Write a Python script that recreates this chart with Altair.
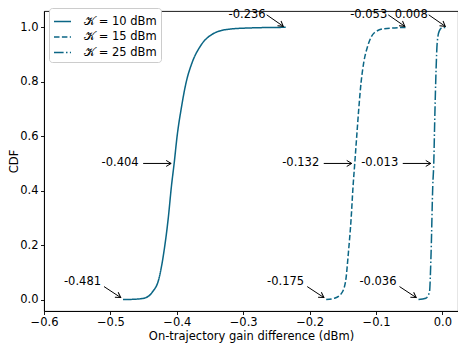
import altair as alt
import pandas as pd

COLOR = "#0b6685"
FONT = "DejaVu Sans"
FS = 11.5

series_names = ["𝒦 = 10 dBm", "𝒦 = 15 dBm", "𝒦 = 25 dBm"]

k10_x = [-0.481, -0.465, -0.4495, -0.437, -0.427, -0.4195, -0.413, -0.408, -0.404,
         -0.3995, -0.3935, -0.386, -0.377, -0.3645, -0.347, -0.322, -0.287, -0.236]
k10_y = [0.0, 0.001, 0.005, 0.027, 0.076, 0.174, 0.296, 0.418, 0.5,
         0.601, 0.699, 0.797, 0.870, 0.931, 0.974, 0.993, 0.998, 1.0]

k15_x = [-0.175, -0.1625, -0.1525, -0.146, -0.1415, -0.1375, -0.1345, -0.132,
         -0.129, -0.126, -0.1225, -0.1185, -0.1125, -0.1025, -0.0875, -0.053]
k15_y = [0.0, 0.005, 0.021, 0.064, 0.174, 0.296, 0.418, 0.5,
         0.601, 0.699, 0.797, 0.870, 0.931, 0.980, 0.995, 1.0]

k25_x = [-0.036, -0.025, -0.0195, -0.017, -0.0145, -0.013, -0.0115, -0.0095,
         -0.0078, -0.0048, 0.0, 0.008]
k25_y = [0.0, 0.005, 0.027, 0.174, 0.418, 0.5, 0.663, 0.846,
         0.944, 0.986, 0.999, 1.0]

# annotations: value, cdf level, text
ann_x = [-0.481, -0.175, -0.036, -0.404, -0.132, -0.013, -0.236, -0.053, 0.008]
ann_y = [0.0, 0.0, 0.0, 0.5, 0.5, 0.5, 1.0, 1.0, 1.0]
ann_text = ["-0.481", "-0.175", "-0.036", "-0.404", "-0.132", "-0.013",
            "-0.236", "-0.053", "0.008"]

x_ticks = [-0.6, -0.5, -0.4, -0.3, -0.2, -0.1, 0.0]
y_ticks = [0.0, 0.2, 0.4, 0.6, 0.8, 1.0]

rows = []
for name, xs, ys in zip(series_names, [k10_x, k15_x, k25_x], [k10_y, k15_y, k25_y]):
    for i, (a, b) in enumerate(zip(xs, ys)):
        rows.append({"series": name, "x": a, "cdf": b, "i": i})
df = pd.DataFrame(rows)

ann = pd.DataFrame({"x": ann_x, "y": ann_y, "t": ann_text})

xscale = alt.Scale(domain=[-0.6, 0.0235], nice=False, zero=False)
yscale = alt.Scale(domain=[-0.042, 1.06], nice=False, zero=False)

xaxis = alt.Axis(values=x_ticks, format=".1f", title="On-trajectory gain difference (dBm)",
                 labelFlush=False, labelOverlap=False, labelPadding=2, titlePadding=2)
yaxis = alt.Axis(values=y_ticks, format=".1f", title="CDF", labelPadding=2.5,
                 titlePadding=0)

lines = alt.Chart(df).mark_line(color=COLOR, strokeWidth=1.5, interpolate="monotone").encode(
    x=alt.X("x:Q", scale=xscale, axis=xaxis),
    y=alt.Y("cdf:Q", scale=yscale, axis=yaxis),
    order="i:Q",
    strokeDash=alt.StrokeDash(
        "series:N",
        scale=alt.Scale(domain=series_names,
                        range=[[1, 0], [5.5, 2.4], [9.6, 2.4, 1.5, 2.4]]),
        sort=series_names,
        legend=alt.Legend(
            title=None, orient="none", legendX=5, legendY=-3,
            symbolType="stroke", symbolSize=289, symbolStrokeWidth=1.5,
            symbolStrokeColor=COLOR, labelFont=FONT, labelFontSize=FS,
            labelColor="black", fillColor="white", strokeColor="#cccccc",
            cornerRadius=3, padding=4, rowPadding=0.5, labelOffset=12,
        ),
    ),
)

ARROW = "M-1,-0.6L0,0L-1,0.6"


def group(level):
    return alt.Chart(ann).transform_filter(alt.datum.y == level)


enc_pt = dict(x=alt.X("x:Q", scale=xscale), y=alt.Y("y:Q", scale=yscale))
enc_rule = dict(x=alt.X("x:Q", scale=xscale), y=alt.Y("y:Q", scale=yscale),
                x2="x:Q", y2="y:Q")

layers = [lines]
# (level, text dx, text dy, start dx, start dy, tip dx, tip dy, angle)
specs = [
    (0.0, -22, -18, -19, -13, -2.3, -2, 33),
    (0.5, -35.5, 0, -31, 0, -3, 0, 0),
    (1.0, -20, -12.5, -19, -12.5, -2.4, -1, 36),
]
for lvl, tdx, tdy, sdx, sdy, hdx, hdy, ang in specs:
    g = group(lvl)
    layers.append(g.mark_text(align="right", baseline="middle", dx=tdx, dy=tdy,
                              font=FONT, fontSize=FS, color="black").encode(
        text="t:N", **enc_pt))
    layers.append(g.mark_rule(color="black", strokeWidth=1, xOffset=sdx, yOffset=sdy,
                              x2Offset=hdx, y2Offset=hdy).encode(**enc_rule))
    layers.append(g.mark_point(shape=ARROW, size=100, filled=False, stroke="black",
                               strokeWidth=1, opacity=1, angle=ang,
                               xOffset=hdx, yOffset=hdy).encode(**enc_pt))

chart = alt.layer(*layers).properties(
    width=414, height=300,
    padding={"left": 36, "top": 3, "right": 0, "bottom": 33},
    autosize=alt.AutoSizeParams(type="none"),
).configure_view(
    stroke="black", strokeWidth=0.9
).configure_axis(
    grid=False, domainColor="black", domainWidth=0.9, tickColor="black", tickWidth=0.9,
    tickSize=3.5, labelColor="black", titleColor="black", labelFont=FONT,
    titleFont=FONT, labelFontSize=FS, titleFontSize=FS, titleFontWeight="normal",
)

chart.save("out.html", embed_options={"renderer": "svg", "actions": False})
